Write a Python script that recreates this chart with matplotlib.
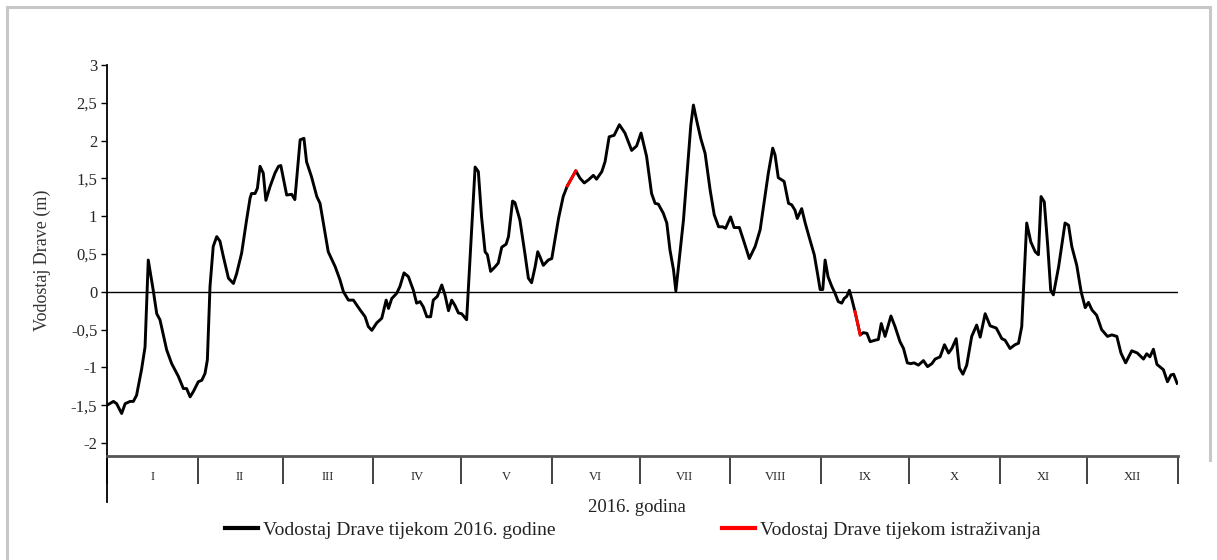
import numpy as np
import matplotlib
matplotlib.use("Agg")
import matplotlib.pyplot as plt
from matplotlib.lines import Line2D
from matplotlib.ticker import FixedLocator, FuncFormatter, NullFormatter

plt.rcParams['font.family'] = ['Liberation Serif', 'DejaVu Serif']

# dan u godini (0 = 1. siječnja) i vodostaj Drave (m), očitano s grafa
dani = [0, 2.2, 3.3, 5.0, 6.2, 7.9, 9.0, 10.1, 11.8, 13.0, 14.1, 15.8, 17.0, 18.1,
        20.4, 22.1, 24.4, 26.1, 27.2, 28.4, 29.5, 31.2, 32.4, 33.5, 34.3, 35.2,
        36.3, 37.5, 38.6, 39.8, 41.5, 43.2, 44.3, 46.0, 47.7, 48.9, 49.4, 50.6,
        51.4, 52.3, 53.4, 54.3, 55.7, 57.4, 58.6, 59.4, 61.4, 63.1, 64.2, 66.0,
        67.3, 68.2, 69.9, 71.7, 72.8, 75.6, 78.0, 79.6, 80.8, 82.5, 84.2, 86.5,
        88.2, 89.3, 90.5, 92.2, 93.9, 95.4, 96.2, 97.3, 99.0, 100.1, 101.5, 103.0,
        104.7, 105.8, 107.0, 108.1, 109.3, 110.6, 111.5, 112.9, 114.4, 115.5,
        116.7, 117.8, 118.9, 120.1, 121.2, 122.9, 125.8, 126.9, 128.0, 129.2,
        130.0, 131.1, 132.6, 133.7, 134.9, 136.4, 137.2, 138.6, 139.4, 141.1,
        142.8, 144.0, 145.1, 146.3, 147.2, 148.0, 149.1, 150.8, 152.0, 153.1,
        154.3, 155.9, 157.3, 160.2, 161.7, 163.1, 164.5, 166.2, 167.3, 169.1,
        170.2, 171.6, 173.3, 175.1, 177.0, 179.3, 181.0, 182.5, 184.4, 186.1,
        187.3, 188.4, 190.1, 191.3, 192.4, 193.6, 194.4, 197.0, 199.5, 200.4,
        201.6, 202.9, 204.4, 206.1, 207.5, 209.0, 210.4, 211.4, 213.1, 214.3,
        216.1, 217.7, 219.5, 221.5, 223.2, 224.5, 226.0, 227.5, 228.3, 229.4,
        231.4, 232.9, 234.0, 235.1, 235.9, 237.4, 238.6, 240.2, 241.7, 242.9,
        243.7, 244.6, 245.4, 246.4, 247.7, 248.8, 249.9, 251.1, 251.9, 252.8,
        253.7, 254.5, 255.6, 257.4, 258.5, 259.7, 260.8, 262.5, 263.6, 264.6,
        265.9, 267.9, 269.3, 271.0, 272.2, 273.5, 274.7, 275.8, 277.3, 279.0,
        280.4, 281.9, 283.0, 284.7, 286.2, 287.6, 288.7, 290.2, 291.3, 292.5,
        293.8, 295.5, 297.2, 298.4, 300.1, 301.8, 303.9, 305.8, 306.9, 308.6,
        310.3, 311.5, 312.6, 314.3, 315.7, 317.2, 318.3, 319.2, 320.3, 321.5,
        322.5, 323.4, 325.2, 327.4, 328.6, 329.7, 331.4, 332.9, 334.3, 335.4,
        336.6, 338.2, 339.9, 341.9, 343.4, 345.1, 346.5, 348.1, 350.2, 352.1,
        354.2, 355.3, 356.4, 357.6, 358.8, 361.0, 362.4, 363.6, 364.5, 365.7]

vodostaj = [-1.50, -1.45, -1.48, -1.61, -1.48, -1.45, -1.45, -1.37, -1.03, -0.73,
            0.42, 0.02, -0.29, -0.37, -0.77, -0.95, -1.12, -1.28, -1.28, -1.39,
            -1.32, -1.19, -1.17, -1.08, -0.90, 0.07, 0.60, 0.73, 0.67, 0.46,
            0.18, 0.11, 0.24, 0.51, 0.95, 1.24, 1.30, 1.30, 1.37, 1.66,
            1.57, 1.21, 1.39, 1.57, 1.66, 1.67, 1.28, 1.29, 1.22, 2.01,
            2.03, 1.72, 1.52, 1.26, 1.17, 0.53, 0.33, 0.16, 0.00, -0.11,
            -0.11, -0.24, -0.33, -0.46, -0.51, -0.41, -0.35, -0.11, -0.22, -0.09,
            -0.02, 0.07, 0.25, 0.20, 0.02, -0.15, -0.13, -0.20, -0.33, -0.33,
            -0.11, -0.06, 0.09, -0.04, -0.25, -0.11, -0.18, -0.28, -0.29, -0.37,
            1.65, 1.59, 0.99, 0.53, 0.49, 0.27, 0.33, 0.38, 0.59, 0.63,
            0.73, 1.20, 1.18, 0.95, 0.51, 0.18, 0.12, 0.33, 0.53, 0.46,
            0.35, 0.42, 0.44, 0.69, 0.97, 1.26, 1.40, 1.60, 1.50, 1.44,
            1.48, 1.54, 1.49, 1.59, 1.72, 2.05, 2.07, 2.21, 2.10, 1.87,
            1.93, 2.10, 1.79, 1.30, 1.17, 1.16, 1.04, 0.91, 0.55, 0.29,
            0.01, 0.95, 2.20, 2.47, 2.25, 2.03, 1.83, 1.35, 1.02, 0.86,
            0.86, 0.84, 0.99, 0.85, 0.85, 0.66, 0.44, 0.60, 0.82, 1.17,
            1.57, 1.90, 1.81, 1.51, 1.46, 1.17, 1.15, 1.08, 0.97, 1.10,
            0.91, 0.69, 0.49, 0.22, 0.03, 0.03, 0.42, 0.20, 0.07, -0.02,
            -0.13, -0.15, -0.09, -0.06, 0.02, -0.09, -0.26, -0.57, -0.54, -0.55,
            -0.66, -0.64, -0.63, -0.42, -0.59, -0.32, -0.46, -0.66, -0.75, -0.94,
            -0.95, -0.94, -0.97, -0.91, -0.99, -0.95, -0.89, -0.86, -0.70, -0.81,
            -0.75, -0.62, -1.01, -1.09, -0.97, -0.59, -0.44, -0.60, -0.29, -0.45,
            -0.48, -0.62, -0.64, -0.75, -0.70, -0.68, -0.46, 0.91, 0.66, 0.53,
            0.49, 1.26, 1.19, 0.60, 0.02, -0.04, 0.33, 0.91, 0.88, 0.60,
            0.35, 0.00, -0.21, -0.14, -0.24, -0.31, -0.50, -0.59, -0.57, -0.59,
            -0.81, -0.94, -0.78, -0.81, -0.89, -0.82, -0.86, -0.76, -0.96, -1.03,
            -1.19, -1.10, -1.09, -1.21]

# razdoblja istraživanja (crveno)
istr1_dani = [157.3, 160.2]
istr1_vodostaj = [1.40, 1.60]
istr2_dani = [255.6, 257.4]
istr2_vodostaj = [-0.26, -0.57]

mjeseci = ['I', 'II', 'III', 'IV', 'V', 'VI', 'VII', 'VIII', 'IX', 'X', 'XI', 'XII']
dani_u_mjesecu = [31, 29, 31, 30, 31, 30, 31, 31, 30, 31, 30, 31]

granice = np.concatenate([[0], np.cumsum(dani_u_mjesecu)])
sredine = (granice[:-1] + granice[1:]) / 2

W, H = 1217, 560
fig = plt.figure(figsize=(W / 100, H / 100), dpi=100)
ax = fig.add_axes([107 / W, 1 - 456 / H, (1178 - 107) / W, (456 - 65) / H])

ax.plot(dani, vodostaj, color='black', lw=2.1, solid_joinstyle='round')
ax.plot(istr1_dani, istr1_vodostaj, color='#ff0000', lw=2.1)
ax.plot(istr2_dani, istr2_vodostaj, color='#ff0000', lw=2.1)
ax.axhline(0, color='black', lw=1.0)

ax.set_xlim(0, 366)
ax.set_ylim(-2.172, 3)

for s in ['top', 'right']:
    ax.spines[s].set_visible(False)
ax.spines['left'].set_color('black')
ax.spines['left'].set_linewidth(1.3)
ax.spines['left'].set_bounds(-2.78, 3)
ax.spines['bottom'].set_color('#555555')
ax.spines['bottom'].set_linewidth(2.0)

ax.set_yticks(np.arange(-2, 3.01, 0.5))
ax.yaxis.set_major_formatter(FuncFormatter(lambda v, _: f'{v:g}'.replace('.', ',')))
ax.tick_params(axis='y', direction='out', length=4, width=1.0, color='black',
               labelsize=12, labelcolor='#262626', pad=3)

ax.xaxis.set_major_locator(FixedLocator(granice))
ax.xaxis.set_major_formatter(NullFormatter())
ax.set_xticks(sredine, mjeseci, minor=True)
ax.tick_params(axis='x', which='major', direction='out', length=20, width=1.3, color='#333333')
ax.tick_params(axis='x', which='minor', length=0, pad=11, labelsize=9, labelcolor='#262626')

ax.set_ylabel('Vodostaj Drave (m)', fontsize=13, color='#333333', labelpad=14)

fig.text(637 / W, 1 - 508 / H, '2016. godina', ha='center', va='center',
         fontsize=13.5, color='#222222')

h1 = Line2D([], [], color='black', lw=3)
h2 = Line2D([], [], color='#ff0000', lw=3)
for h, txt, x0 in [(h1, 'Vodostaj Drave tijekom 2016. godine', 225),
                   (h2, 'Vodostaj Drave tijekom istraživanja', 722)]:
    fig.legend([h], [txt], loc='center left', bbox_to_anchor=(x0 / W, 1 - 530 / H),
               frameon=False, borderpad=0, borderaxespad=0, handlelength=1.7,
               handletextpad=0.25, fontsize=14, labelcolor='#222222')

# okvir slike
okvir = dict(color='#c8c8c8', lw=2.2, transform=fig.transFigure)
fig.add_artist(Line2D([7 / W, 7 / W], [0, 1 - 7 / H], **okvir))
fig.add_artist(Line2D([7 / W, 1210 / W], [1 - 7 / H, 1 - 7 / H], **okvir))
fig.add_artist(Line2D([1210 / W, 1210 / W], [1 - 7 / H, 1 - 460 / H], **okvir))

fig.savefig('out.png', dpi=100)
